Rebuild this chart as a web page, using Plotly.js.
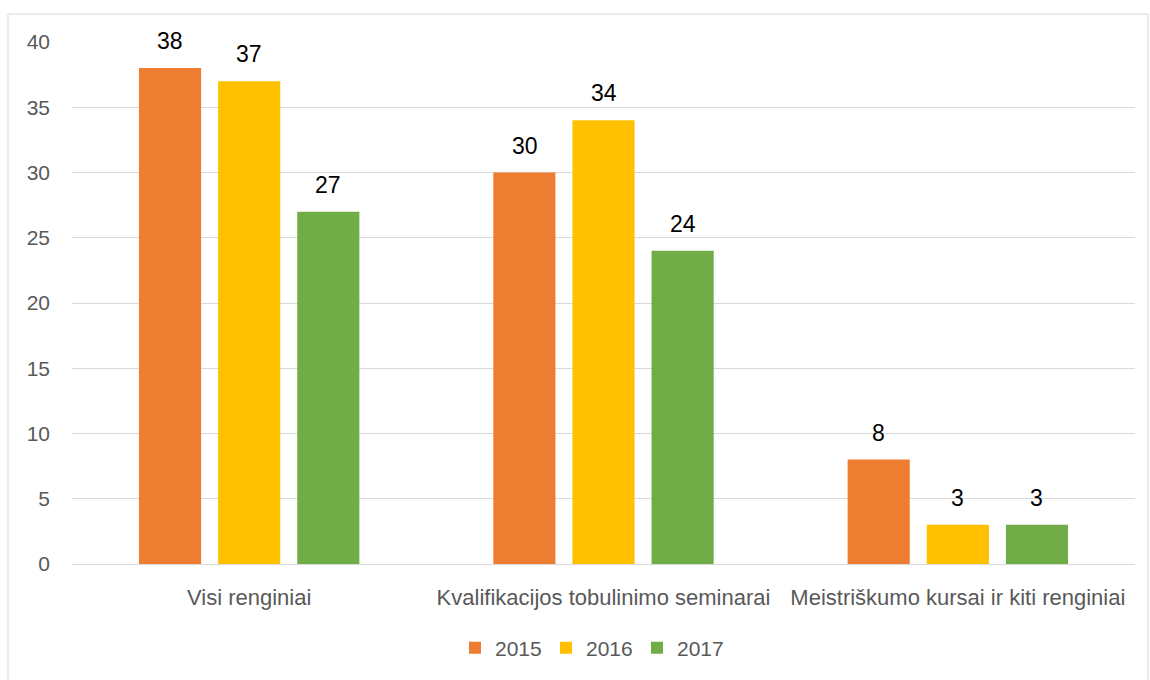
<!DOCTYPE html>
<html>
<head>
<meta charset="utf-8">
<script src="https://cdn.plot.ly/plotly-3.0.1.min.js"></script>
<style>
html,body{margin:0;padding:0;background:#fff;}
#chart{width:1150px;height:680px;}
</style>
</head>
<body>
<div id="chart"></div>
<script>
const categories = ["Visi renginiai", "Kvalifikacijos tobulinimo seminarai", "Meistriškumo kursai ir kiti renginiai"];
const seriesNames = ["2015", "2016", "2017"];
const values2015 = [38, 30, 8];
const values2016 = [37, 34, 3];
const values2017 = [27, 24, 3];
const colors = ["#ED7D31", "#FFC000", "#70AD47"];
const yTicks = [0, 5, 10, 15, 20, 25, 30, 35, 40];

const allValues = [values2015, values2016, values2017];
const FONT = "Liberation Sans, Arial, sans-serif";

const traces = allValues.map((vals, i) => ({
  type: "bar",
  name: seriesNames[i],
  x: categories,
  y: vals,
  marker: {color: colors[i]},
  hoverinfo: "x+y+name"
}));

const xShifts = [-79, 0, 79];
const annotations = [];
allValues.forEach((vals, i) => {
  vals.forEach((v, j) => {
    annotations.push({
      x: categories[j], y: v, xref: "x", yref: "y",
      text: String(v), showarrow: false,
      xshift: xShifts[i], yanchor: "bottom", yshift: 12,
      font: {family: FONT, size: 23, color: "#000000"}
    });
  });
});

const layout = {
  width: 1150, height: 680,
  margin: {l: 72, r: 15, t: 42, b: 115},
  paper_bgcolor: "#ffffff", plot_bgcolor: "#ffffff",
  barmode: "group", bargap: 0.33, bargroupgap: 0.215,
  font: {family: FONT, color: "#595959", size: 20},
  xaxis: {
    type: "category", showgrid: false, showline: false, zeroline: false, ticks: "",
    tickfont: {family: FONT, size: 22, color: "#595959"},
    ticklabelstandoff: 18, fixedrange: true
  },
  yaxis: {
    range: [0, 40], tickvals: yTicks, ticktext: yTicks.map(String),
    showgrid: true, gridcolor: "#D9D9D9", gridwidth: 1,
    zeroline: true, zerolinecolor: "#D9D9D9", zerolinewidth: 1,
    showline: false, ticks: "",
    tickfont: {family: FONT, size: 21, color: "#595959"},
    ticklabelstandoff: 21, fixedrange: true
  },
  legend: {
    orientation: "h", x: 0.4887, xanchor: "center", y: -0.159, yanchor: "middle",
    font: {family: FONT, size: 21, color: "#595959"},
    itemwidth: 30, entrywidth: 46, entrywidthmode: "pixels", traceorder: "normal"
  },
  annotations: annotations,
  shapes: [{
    type: "rect", xref: "paper", yref: "paper",
    x0: -0.0602, x1: 1.0122, y0: -0.4, y1: 1.0535,
    line: {color: "#D9D9D9", width: 1}, fillcolor: "rgba(0,0,0,0)", layer: "below"
  }]
};

Plotly.newPlot("chart", traces, layout, {displayModeBar: false, staticPlot: true});
</script>
</body>
</html>
